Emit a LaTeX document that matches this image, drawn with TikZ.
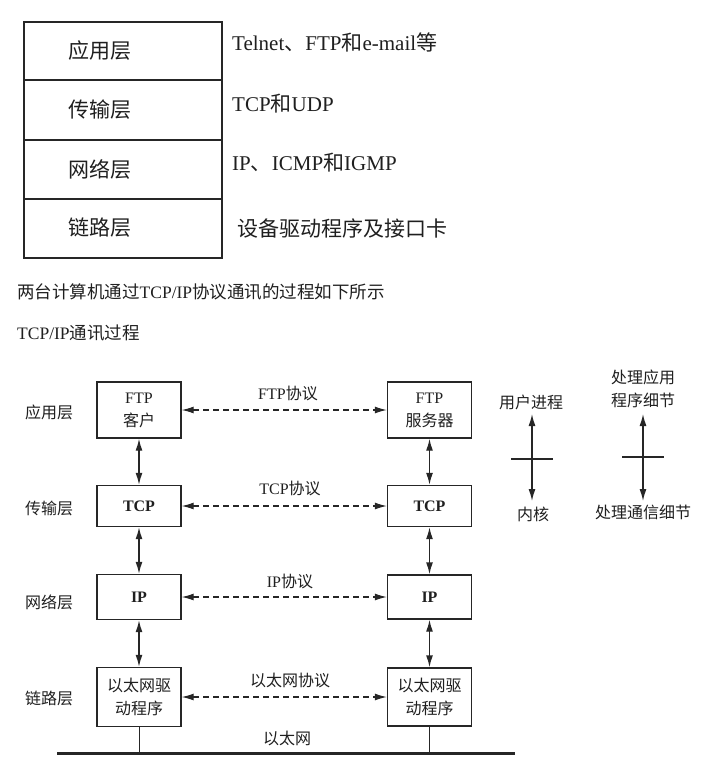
\documentclass[tikz,border=0pt]{standalone}
\usepackage{fontspec}
\setmainfont{Liberation Serif}
\newfontfamily\cjk{Noto Sans CJK SC}
\usetikzlibrary{arrows.meta}
\newcommand\C[1]{{\cjk #1}}
\begin{document}
\begin{tikzpicture}[x=1pt,y=-1pt,
  every node/.style={text=black!88, inner sep=0pt},
  bigtxt/.style={font=\fontsize{21}{25}\selectfont},
  captxt/.style={font=\fontsize{17.5}{21}\selectfont},
  smltxt/.style={font=\fontsize{16}{23}\selectfont},
  tbl/.style={draw=black!85, line width=1.6pt},
  box/.style={draw=black!85, line width=1.4pt, minimum width=84pt, align=center, smltxt},
  tipa/.style={{Latex[length=12pt,width=7pt]}-{Latex[length=12pt,width=7pt]}, line width=1.4pt, draw=black!85},
  proto/.style={tipa, line width=1.1pt, dash pattern=on 6pt off 4pt},
  thinln/.style={line width=1pt, draw=black!85}]
\useasboundingbox (0,0) rectangle (724,764);

% ---- layer table ----
\draw[tbl] (24,22) rectangle (222,80);
\draw[tbl] (24,80) rectangle (222,140);
\draw[tbl] (24,140) rectangle (222,199);
\draw[tbl] (24,199) rectangle (222,258);
\node[bigtxt] (t1) at (100,51) {\C{应用层}};
\node[bigtxt] (t2) at (100,110) {\C{传输层}};
\node[bigtxt] (t3) at (100,169) {\C{网络层}};
\node[bigtxt] (t4) at (100,228) {\C{链路层}};
\node[bigtxt, anchor=west] (d1) at (232,42) {Telnet\C{、}FTP\C{和}e-mail\C{等}};
\node[bigtxt, anchor=west] (d2) at (232,104) {TCP\C{和}UDP};
\node[bigtxt, anchor=west] (d3) at (232,163) {IP\C{、}ICMP\C{和}IGMP};
\node[bigtxt, anchor=west] (d4) at (237,228) {\C{设备驱动程序及接口卡}};

% ---- captions ----
\node[captxt, anchor=west] (c1) at (17,292) {\C{两台计算机通过}TCP/IP\C{协议通讯的过程如下所示}};
\node[captxt, anchor=west] (c2) at (17,333) {TCP/IP\C{通讯过程}};

% ---- layer names ----
\node[smltxt] (l1) at (49,412) {\C{应用层}};
\node[smltxt] (l2) at (49,508) {\C{传输层}};
\node[smltxt] (l3) at (49,602) {\C{网络层}};
\node[smltxt] (l4) at (49,698) {\C{链路层}};

% ---- client stack ----
\node[box, minimum height=56pt] (ca) at (139,410) {FTP\\\C{客户}};
\node[box, minimum height=41pt] (ct) at (139,506) {\textbf{TCP}};
\node[box, minimum height=45pt] (ci) at (139,597) {\textbf{IP}};
\node[box, minimum height=59pt] (ce) at (139,697) {\C{以太网驱}\\\C{动程序}};

% ---- server stack ----
\node[box, minimum height=56pt] (sa) at (429.5,410) {FTP\\\C{服务器}};
\node[box, minimum height=41pt] (st) at (429.5,506) {\textbf{TCP}};
\node[box, minimum height=44pt] (si) at (429.5,597) {\textbf{IP}};
\node[box, minimum height=58pt] (se) at (429.5,697) {\C{以太网驱}\\\C{动程序}};

% ---- vertical links ----
\draw[tipa] (ca) -- (ct);
\draw[tipa] (ct) -- (ci);
\draw[tipa] (ci) -- (ce);
\draw[tipa] (sa) -- (st);
\draw[tipa] (st) -- (si);
\draw[tipa] (si) -- (se);

% ---- peer protocols ----
\draw[proto] (ca) -- (sa);
\draw[proto] (ct) -- (st);
\draw[proto] (ci) -- (si);
\draw[proto] (ce) -- (se);
\node[smltxt] (p1) at (288,393) {FTP\C{协议}};
\node[smltxt] (p2) at (290,488) {TCP\C{协议}};
\node[smltxt] (p3) at (290,581) {IP\C{协议}};
\node[smltxt] (p4) at (290,680) {\C{以太网协议}};

% ---- ethernet ----
\coordinate (g1) at (57,753);
\coordinate (g2) at (515,753);
\draw[line width=3pt, draw=black!85] (g1) -- (g2);
\draw[thinln] (ce.south) -- (ce.south |- g1);
\draw[thinln] (se.south) -- (se.south |- g1);
\node[smltxt] (eth) at (287,738) {\C{以太网}};

% ---- legend ----
\node[smltxt] (up1) at (531,402) {\C{用户进程}};
\node[smltxt] (dn1) at (533,514) {\C{内核}};
\coordinate (u1t) at (532,414);
\coordinate (u1b) at (532,501);
\coordinate (x1l) at (511,459);
\coordinate (x1r) at (553,459);
\draw[tipa] (u1t) -- (u1b);
\draw[line width=1.3pt, draw=black!85] (x1l) -- (x1r);

\node[smltxt, align=center] (up2) at (643,389) {\C{处理应用}\\\C{程序细节}};
\node[smltxt] (dn2) at (643,512) {\C{处理通信细节}};
\coordinate (u2t) at (643,414);
\coordinate (u2b) at (643,501);
\coordinate (x2l) at (622,457);
\coordinate (x2r) at (664,457);
\draw[tipa] (u2t) -- (u2b);
\draw[line width=1.3pt, draw=black!85] (x2l) -- (x2r);
\end{tikzpicture}
\end{document}
